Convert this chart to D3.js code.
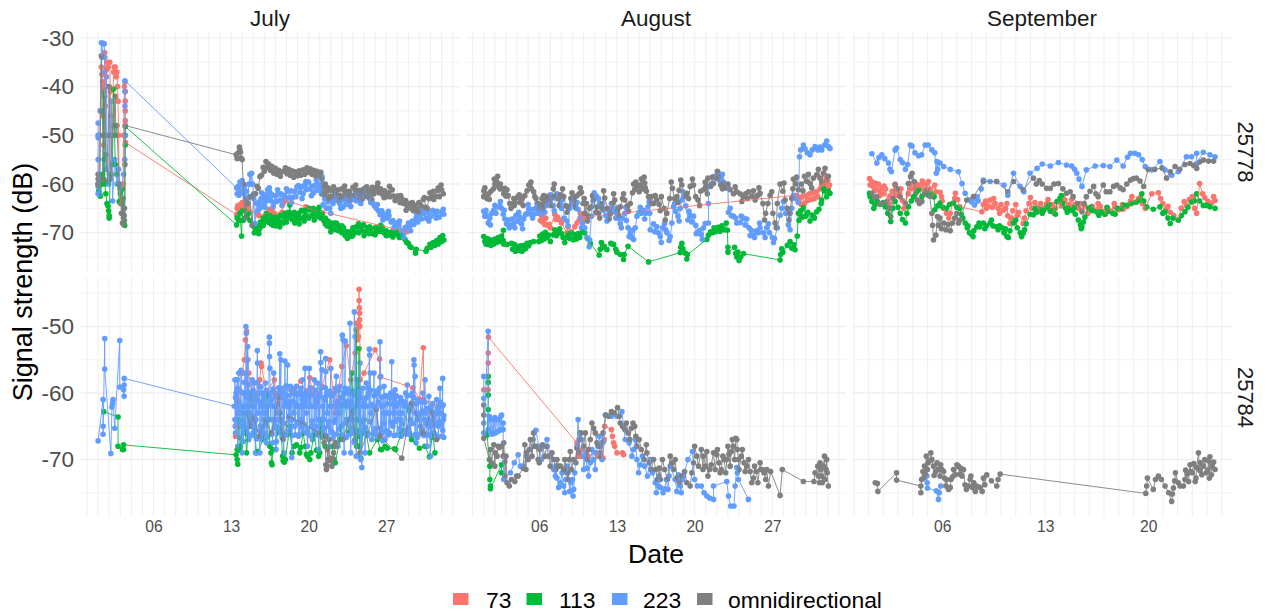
<!DOCTYPE html>
<html>
<head>
<meta charset="utf-8">
<script src="https://cdnjs.cloudflare.com/ajax/libs/d3/7.8.5/d3.min.js"></script>
<style>
  body { margin: 0; background: #fff; }
  text { font-family: "Liberation Sans", Arial, sans-serif; }
</style>
</head>
<body>
<svg width="1267" height="615"></svg>
<script>
var beams = ["73", "113", "223", "omnidirectional"];
var beamColors = ["#F8766D", "#00BA38", "#619CFF", "#7F7F7F"];
var months = ["July", "August", "September"];
var tags = ["25778", "25784"];
var dayTicks = [[6, 13, 20, 27], [6, 13, 20, 27], [6, 13, 20]];

// every series is a list of [day of month, signal strength in dB]

// tag 25778, July
var julA73 = [[1.05,-60],[1.2,-45],[1.3,-36],[1.35,-37.5],[1.4,-39],[1.45,-46],[1.5,-52],[1.55,-40],[1.6,-33],[1.65,-44],[1.7,-40],[1.75,-36.5],[1.85,-35],[1.9,-36],[2.05,-35],[2.1,-41],[2.15,-46],[2.25,-58],[2.3,-48],[2.4,-37],[2.45,-36],[2.55,-36],[2.65,-38],[2.7,-37],[2.75,-40],[2.8,-43],[2.85,-50],[2.9,-60],[3,-64],[3.25,-60],[3.3,-50],[3.38,-40],[3.42,-39],[3.45,-41],[3.45,-43],[3.45,-45],[3.45,-47],[3.47,-51.5],[13.5,-66.3],[13.55,-65],[13.6,-64.5],[13.7,-65.5],[13.8,-64.2],[13.9,-65],[14,-63.8],[14.1,-65],[14.2,-64.5],[14.3,-65.5],[14.4,-66],[14.5,-65],[14.6,-65.6],[15.4,-66],[15.5,-66.5],[16.3,-66],[16.45,-65.2],[16.6,-65.8],[16.7,-65.3],[16.8,-66.3],[16.9,-66],[17.6,-65.8],[17.7,-64],[17.85,-62.9],[17.95,-63.4],[19.75,-64.7],[19.9,-65],[28.85,-69.8]];
var julA113 = [[1,-60],[1.05,-61.5],[1.1,-62],[1.2,-62.5],[1.3,-60],[1.4,-58],[1.5,-41],[1.55,-55],[1.6,-60],[1.7,-62],[1.8,-64],[1.9,-64.5],[1.95,-65.5],[2,-67],[2,-66.5],[2.1,-58],[2.3,-56],[2.4,-40.5],[2.55,-56],[2.7,-58],[2.9,-63.6],[3.2,-61],[3.4,-68.5],[3.45,-52],[3.45,-50],[3.45,-48.2],[13.5,-68.4],[13.55,-67],[13.7,-67.5],[13.8,-66],[13.95,-70.7],[14,-65.5],[14.1,-67.5],[14.3,-65.5],[14.4,-66.8],[14.6,-66],[14.7,-67.5],[15.1,-70],[15.15,-69],[15.3,-69.8],[15.4,-68.6],[15.55,-69.3],[15.65,-67.8],[15.8,-68.6],[15.9,-67],[16,-67.8],[16.1,-66.5],[16.2,-67.6],[16.3,-66.7],[16.4,-67.9],[16.5,-66.6],[16.6,-68.2],[16.7,-67.2],[16.8,-68.5],[16.95,-67.5],[17.05,-68.6],[17.2,-67],[17.3,-68.2],[17.4,-66.5],[17.5,-67.8],[17.6,-66.3],[17.75,-68],[17.85,-66.8],[18,-67.8],[18.15,-65.8],[18.3,-64.3],[18.4,-66],[18.5,-67.3],[18.6,-66.2],[18.75,-68],[18.85,-66.5],[19,-67.5],[19.1,-66],[19.25,-67],[19.35,-65.4],[19.5,-67],[19.6,-65.5],[19.75,-66.5],[19.9,-65.2],[20,-67],[20.15,-65.3],[20.3,-66.5],[20.4,-65],[20.55,-66.3],[20.7,-65.3],[20.85,-66.7],[21,-65.8],[21.1,-67],[21.25,-66],[21.4,-67.6],[21.5,-67],[21.65,-68.6],[21.75,-67.6],[21.9,-68.8],[22.05,-68],[22.2,-69.2],[22.3,-68],[22.45,-69.4],[22.6,-68.4],[22.7,-69.6],[22.85,-68.8],[23,-70],[23.15,-69],[23.3,-70.6],[23.45,-69.8],[23.6,-70.9],[23.75,-69.8],[23.9,-70.7],[24,-69],[24.15,-69.9],[24.3,-68.8],[24.5,-70],[24.65,-68.7],[24.8,-69.6],[24.95,-68.4],[25.1,-69.8],[25.3,-69],[25.45,-70.2],[25.6,-69.2],[25.8,-70.2],[26,-69],[26.15,-69.8],[26.3,-68.9],[26.5,-69.7],[26.65,-68.9],[26.8,-70],[27,-69.6],[27.2,-70.5],[27.4,-70],[27.6,-70.9],[27.8,-70],[28,-70.4],[28.2,-71],[28.4,-70],[28.55,-71],[28.7,-71.4],[28.85,-72],[29,-72.2],[29.15,-72.9],[29.25,-73],[29.65,-74.2],[29.7,-73.4],[30.6,-73.8],[30.7,-73.2],[30.95,-72.4],[31.05,-73],[31.25,-72],[31.4,-72.6],[31.55,-71.6],[31.7,-72.3],[31.85,-71],[32,-71.8],[32.1,-70.6],[32.2,-71.5]];
var julA113b = [[15.5,-70.2],[15.9,-68.5],[16.2,-66],[16.6,-66.6],[17,-66.8],[17.4,-68.8],[17.8,-66],[18.2,-66.8],[18.7,-65.8],[19.15,-68.2],[19.6,-67.6],[20.05,-65],[20.5,-67.4],[20.95,-64.8],[21.5,-68.2],[22,-69.8],[22.5,-68],[23,-68.6],[23.5,-71.2],[24,-70.6],[24.5,-68.2],[25,-70.6],[25.5,-68.8],[26,-70.4],[26.5,-68.5],[27,-70.6],[27.5,-69.8],[28,-69.6]];
var julA223 = [[1,-47.5],[1,-50],[1,-50.5],[1,-55],[1,-60.5],[1,-62],[1.15,-62],[1.2,-45],[1.3,-31],[1.35,-34],[1.45,-31.1],[1.55,-31.2],[1.6,-34],[1.6,-37],[1.7,-57],[1.75,-38],[1.8,-50],[1.95,-60],[2.1,-50],[2.2,-43],[2.3,-63.5],[2.5,-55],[2.7,-60],[2.85,-57],[3,-62],[3.3,-58],[3.4,-55],[3.42,-50],[3.42,-44],[3.42,-41],[3.42,-38.8],[13.5,-60.8],[13.55,-62],[13.65,-60.5],[13.7,-62.3],[13.8,-59.6],[13.9,-61.5],[14,-59.3],[14.1,-62],[14.2,-60.5],[14.3,-63],[14.4,-61.5],[14.5,-64],[14.6,-60],[14.7,-58],[14.8,-60],[14.86,-57.8],[14.95,-60],[15.05,-63],[15.15,-68.1],[15.3,-64],[15.4,-65.5],[15.5,-63.7],[15.6,-65],[15.7,-63],[15.8,-64.5],[15.9,-62.8],[16,-64],[16.1,-62.2],[16.2,-63.5],[16.3,-61.2],[16.4,-63],[16.5,-61.7],[16.6,-63.5],[16.7,-62.2],[16.85,-63.8],[17,-62.4],[17.1,-63.6],[17.25,-62],[17.4,-63.4],[17.5,-62],[17.65,-63.5],[17.8,-62.3],[17.95,-63],[18.1,-61.5],[18.25,-62.8],[18.4,-61.4],[18.55,-62.8],[18.7,-61.5],[18.85,-62.6],[19.07,-60.3],[19.2,-61.7],[19.35,-60.6],[19.5,-62],[19.65,-60.2],[19.8,-61.2],[20,-59.6],[20.15,-61],[20.3,-60.5],[20.45,-61.8],[20.6,-60.2],[20.75,-61.3],[20.9,-60],[21.05,-61],[21.2,-58.5],[21.25,-60],[21.3,-64.3],[21.45,-63],[21.6,-65],[21.75,-63.6],[21.9,-65],[22.05,-63.2],[22.2,-64],[22.35,-62.2],[22.5,-63.4],[22.65,-62.4],[22.8,-64],[22.95,-63.3],[23.1,-64.8],[23.25,-63.3],[23.4,-64.2],[23.55,-62.7],[23.7,-63.6],[23.85,-62.3],[24,-63.2],[24.15,-62.3],[24.3,-63.5],[24.45,-61.8],[24.6,-63],[24.75,-62],[24.9,-63],[25.05,-61.2],[25.2,-62.5],[25.35,-61.8],[25.5,-63],[25.65,-62.2],[25.8,-64],[25.95,-64.5],[26.1,-65],[26.3,-65.5],[26.45,-66.3],[26.6,-65.5],[26.75,-66.5],[26.9,-66.2],[27.1,-67],[27.25,-66.5],[27.45,-67.8],[27.6,-67.5],[27.8,-68.6],[27.95,-68],[28.15,-68.5],[28.35,-69.6],[28.55,-70.2],[28.7,-69],[28.85,-68.8],[29,-68],[29.15,-68.6],[29.35,-67.6],[29.5,-68.3],[29.7,-67],[29.85,-67.8],[30.05,-66.3],[30.2,-67.2],[30.4,-66],[30.6,-67],[30.8,-65.8],[31,-66.7],[31.2,-65.4],[31.4,-66.2],[31.6,-65.6],[31.8,-66.8],[32,-65.8],[32.15,-65.2],[32.2,-66.2]];
var julA223b = [[15.75,-61.8],[16.05,-64.8],[16.45,-60.8],[16.8,-64.6],[17.2,-61.2],[17.6,-64.4],[18,-61],[18.45,-63.8],[18.95,-60.6],[19.4,-63],[19.75,-59.5],[20.25,-62.4],[20.7,-59.2],[21.15,-62],[21.55,-62.6],[22,-66],[22.4,-61.4],[22.9,-65],[23.35,-62.3],[23.8,-64.6],[24.25,-61.4],[24.7,-64],[25.15,-60.8],[25.6,-63.8],[26.2,-64.2],[26.7,-67.4],[27.2,-65.6],[27.7,-69],[28.2,-67.6],[28.6,-71],[29.2,-69.6],[29.75,-66.2],[30.3,-65.4],[30.85,-67.6],[31.5,-67]];
var julA360 = [[1,-58],[1,-59],[1,-60],[1.1,-60.5],[1.15,-59],[1.3,-33.7],[1.35,-45],[1.45,-50],[1.5,-59],[1.6,-42],[1.65,-50],[1.7,-54],[1.85,-59.5],[2,-40],[2.05,-50],[2.1,-59],[2.25,-50],[2.4,-48],[2.55,-42],[2.6,-50],[2.7,-48],[2.9,-60],[3,-61],[3.1,-66],[3.15,-64],[3.2,-68],[3.22,-66],[3.25,-63],[3.28,-67],[3.3,-68.3],[3.35,-66.5],[3.38,-65],[3.38,-67.5],[3.42,-56],[3.45,-48],[13.45,-54],[13.55,-54.8],[13.65,-53.6],[13.75,-52.4],[13.8,-53],[13.85,-53.5],[13.9,-54.7],[14,-55],[14.1,-60],[14.25,-67],[14.4,-63],[14.5,-64],[14.7,-62.6],[14.9,-68.5],[15.05,-62],[15.2,-62],[15.35,-60.5],[15.46,-60.9],[15.6,-58.5],[15.75,-58.2],[15.9,-56.6],[16,-57.4],[16.15,-55.4],[16.3,-56.6],[16.4,-55.9],[16.55,-57.2],[16.7,-56.4],[16.85,-57.8],[17,-56.8],[17.15,-58],[17.3,-57.2],[17.45,-58.4],[17.6,-57.5],[17.75,-57.4],[17.9,-56.7],[18.05,-57.9],[18.2,-57],[18.35,-58.2],[18.5,-57.3],[18.65,-58.6],[18.8,-57.5],[19,-58.3],[19.15,-57.3],[19.3,-58.2],[19.5,-57.1],[19.65,-58],[19.85,-56.7],[20,-57.6],[20.15,-56.9],[20.3,-58],[20.45,-57.2],[20.6,-58.3],[20.75,-57.4],[20.95,-58.3],[21.1,-57.6],[21.2,-59],[21.25,-62],[21.35,-60.5],[21.5,-60],[21.65,-61.5],[21.75,-60.8],[21.9,-62.6],[22.05,-61.3],[22.2,-62.6],[22.35,-61.5],[22.5,-62.4],[22.65,-61.2],[22.8,-62.4],[23,-61],[23.15,-62.5],[23.3,-61.4],[23.5,-62.8],[23.65,-61.5],[23.8,-62.5],[24,-60.7],[24.15,-62.4],[24.3,-61.3],[24.5,-62.7],[24.65,-61.3],[24.85,-62.2],[25,-61],[25.15,-62.5],[25.3,-61.6],[25.45,-62.8],[25.6,-61.4],[25.75,-60.7],[25.9,-62],[26.05,-61.2],[26.2,-60.5],[26.35,-61.8],[26.5,-61],[26.7,-62.2],[26.85,-61.4],[27,-62.6],[27.2,-61.8],[27.35,-62.6],[27.55,-61.2],[27.7,-62.5],[27.9,-63],[28.05,-62.5],[28.25,-63.8],[28.4,-63],[28.55,-64],[28.75,-63.4],[28.9,-64.8],[29.05,-64],[29.25,-65],[29.45,-65.5],[29.6,-64.4],[29.8,-65.2],[29.95,-63.8],[30.15,-64.5],[30.35,-63.2],[30.55,-64.8],[30.7,-65],[30.85,-63],[30.95,-61.8],[31.1,-62.8],[31.25,-61.5],[31.45,-62.5],[31.65,-61.3],[31.8,-62.6],[31.95,-60.2],[32,-61.2],[32.15,-62]];
var julA360b = [[21.4,-62.2],[21.8,-63],[22.25,-60.6],[22.75,-63.2],[23.25,-60.4],[23.7,-63.2],[24.25,-60.2],[24.75,-63.2],[25.25,-60.6],[25.7,-63.2],[26.25,-59.8],[26.8,-62.8],[27.3,-60.5],[27.8,-63.4],[28.3,-62.4],[28.8,-65.4],[29.35,-63.8],[29.9,-65.7],[30.45,-62.8],[31.3,-63.2],[31.7,-60.8]];

// tag 25778, August
var augA73 = [[6.1,-66],[6.1,-67.5],[6.25,-66.2],[6.3,-67.8],[6.4,-67],[6.5,-68.3],[6.6,-67],[6.75,-68.5],[6.9,-68.3],[7,-69],[7.4,-66.2],[7.5,-67.3],[7.65,-66.8],[7.9,-67.4],[8,-68],[8.5,-70],[8.6,-68.8],[8.9,-69.8],[9.2,-68.8],[9.4,-68],[9.6,-67.4],[9.7,-66],[9.8,-66.6],[9.9,-67.6],[10,-66.8],[29.2,-62.3],[29.35,-63.8],[29.5,-62.8],[29.6,-64.2],[29.75,-62.5],[29.9,-64],[30.05,-62.4],[30.2,-63.4],[30.35,-62],[30.5,-63.2],[30.65,-61.8],[30.8,-63],[30.95,-61.6],[31.1,-62.6],[31.3,-61],[31.45,-60.3],[31.6,-60.5],[31.7,-58.1],[31.85,-59.8],[32,-59.3],[32.05,-60.8],[32.15,-60.2]];
var augA113 = [[1,-70.8],[1.1,-71.8],[1.2,-72.3],[1.3,-71.2],[1.4,-72.4],[1.5,-71.4],[1.65,-72.6],[1.75,-71.6],[1.9,-72.3],[2,-71.3],[2.15,-72],[2.3,-71],[2.45,-71.8],[2.6,-70.7],[2.75,-71.6],[2.77,-69.5],[2.8,-72.3],[3.1,-72.4],[3.5,-72.2],[3.6,-73.4],[3.75,-72.4],[3.85,-73.8],[4,-72.8],[4.15,-73.6],[4.3,-72.7],[4.45,-73.8],[4.6,-72.6],[4.75,-73.3],[4.9,-72.2],[5.05,-72.7],[5.2,-72],[5.5,-71.8],[5.95,-71.8],[6.05,-70.7],[6.2,-71.6],[6.3,-70.3],[6.45,-71.3],[6.55,-69.9],[6.7,-71],[6.85,-70.5],[7,-71.8],[7.3,-70.4],[7.4,-69.4],[7.55,-70.6],[7.7,-69.8],[7.85,-69.2],[8,-70.2],[8.15,-71],[8.3,-72],[8.45,-71],[8.6,-70.2],[8.75,-71.2],[8.9,-70],[9.05,-71.5],[9.2,-70.4],[9.35,-71.3],[9.5,-70.2],[9.65,-71],[9.8,-70],[9.95,-69.4],[10.1,-70],[10.35,-71.2],[10.6,-72.2],[11.4,-74.6],[11.5,-73.4],[11.6,-72],[11.7,-73],[11.85,-72.8],[12.1,-73.5],[12.45,-72.2],[12.7,-72.4],[12.9,-73.4],[13,-74],[13.3,-74.5],[13.6,-75.5],[13.65,-74.5],[14,-72.8],[15.85,-76],[18.7,-74.1],[18.75,-73],[18.85,-72.2],[18.95,-73.3],[19.15,-74.2],[19.3,-75.4],[19.35,-74.5],[21.1,-71.4],[21.25,-70.5],[21.45,-69.8],[21.6,-70],[21.75,-69],[21.9,-69.8],[22.1,-68.9],[22.3,-69.7],[22.45,-68.6],[22.65,-69.4],[22.85,-68],[22.95,-69.5],[23,-73],[23,-74],[23.6,-73],[23.7,-74.3],[23.8,-75],[23.9,-74],[24,-75.7],[24.15,-75],[24.4,-74.3],[27.7,-75.6],[27.75,-74.5],[27.85,-73.3],[27.95,-74],[28.35,-72.6],[28.6,-71.8],[28.75,-73.2],[28.95,-72.5],[29.05,-73.5],[29.25,-70.7],[29.35,-66],[29.4,-67.5],[29.55,-65.5],[29.7,-66.8],[29.8,-64.9],[30,-66.6],[30.2,-65.8],[30.4,-67.6],[30.6,-66.4],[30.8,-67],[31,-65.7],[31.2,-65.2],[31.4,-64],[31.45,-63.3],[31.6,-60.9],[31.7,-61.5],[31.9,-62.6],[32.05,-61.5],[32.2,-61.9]];
var augA223 = [[1,-65.6],[1.1,-66.6],[1.25,-66.5],[1.4,-68],[1.55,-67],[1.7,-66],[1.9,-65.4],[2.1,-66],[2.3,-64.7],[2.45,-64.5],[2.6,-65],[2.75,-66.2],[2.9,-67.2],[3.05,-68.2],[3.2,-67.4],[3.4,-68.5],[3.55,-67.2],[3.7,-68],[3.9,-66.5],[4.05,-67.7],[4.25,-66.8],[4.4,-68.2],[4.6,-67.2],[4.75,-66.3],[4.9,-66],[5.05,-65.1],[5.2,-66.2],[5.35,-65.2],[5.5,-66.2],[5.7,-65],[5.85,-66],[6.1,-64.2],[6.25,-65.2],[6.5,-65.8],[6.7,-64.4],[6.9,-63.4],[7.1,-63],[7.25,-64.5],[7.45,-62.8],[7.7,-63],[7.9,-64],[8,-65],[8.25,-67],[8.5,-67.6],[8.75,-65],[8.95,-64],[9.1,-63.7],[9.3,-65],[9.5,-65.2],[9.7,-67],[9.9,-68],[10.1,-69],[10.3,-71],[10.5,-72.9],[10.55,-71.5],[10.7,-66.6],[10.85,-63.5],[11,-63],[11.15,-62.5],[11.35,-63],[11.5,-64.5],[11.8,-65.4],[12,-66.5],[12.2,-65.2],[12.4,-66.2],[12.6,-65],[12.85,-65.8],[13,-65],[13.15,-67],[13.3,-68.1],[13.5,-67],[13.7,-66],[13.85,-67.5],[14,-69],[14.2,-70],[14.35,-71],[14.5,-71.4],[14.65,-69],[14.8,-66.6],[15,-65.8],[15.2,-66],[15.4,-65.4],[15.6,-66],[15.8,-64.7],[15.95,-66],[16,-69.4],[16.3,-68.2],[16.6,-68.8],[16.75,-70],[16.9,-70.8],[17.1,-69],[17.3,-68.1],[17.5,-70],[17.8,-70.8],[17.95,-68],[18.1,-64.7],[18.3,-65.6],[18.5,-66.6],[18.7,-65],[18.85,-63.3],[19,-62.6],[19.2,-64.5],[19.4,-67.4],[19.6,-66.5],[19.9,-66.6],[20.1,-68.5],[20.25,-70],[20.45,-69.5],[20.6,-70.4],[20.8,-69],[20.95,-68.1],[21.25,-68],[21.25,-64],[21.25,-60.5],[21.5,-60],[21.8,-58.4],[22,-58.2],[22.2,-59.2],[22.4,-59],[22.6,-59.6],[22.85,-60.2],[23,-60.6],[23.05,-65.8],[23.3,-66.5],[23.5,-66.6],[23.8,-68],[24.1,-67.9],[24.4,-67],[24.7,-67.2],[24.9,-69],[25.1,-69.5],[25.3,-70.5],[25.55,-69.6],[25.75,-70],[25.9,-69],[26.2,-70],[26.5,-69],[26.75,-70],[27,-71],[27.2,-71.2],[27.45,-69],[27.7,-66.4],[27.85,-65],[28,-63.6],[28.2,-66],[28.45,-68.4],[28.6,-69.4],[28.75,-65],[28.9,-62.3],[29.15,-63],[29.35,-63.7],[29.45,-54.4],[29.55,-53],[29.8,-52],[29.95,-52.8],[30.15,-53.6],[30.4,-54],[30.6,-53],[30.85,-52.3],[31.1,-53],[31.3,-52.4],[31.45,-53],[31.7,-52],[31.9,-51.2],[32.05,-52.3],[32.2,-52.7]];
var augA223b = [[1.2,-65.4],[1.6,-68.4],[2,-64.4],[2.5,-63.6],[2.85,-65.4],[3.3,-69],[3.8,-69],[4.15,-65.8],[4.5,-69.2],[5,-64.2],[5.4,-67],[5.8,-64],[6.2,-66.4],[6.6,-63.4],[7,-62.2],[7.35,-65.5],[7.6,-62],[8.1,-63.2],[8.6,-68.6],[9,-62.8],[9.4,-63.8],[9.8,-69],[10.95,-61.8],[11.3,-64.6],[11.7,-64],[12.1,-67.6],[12.5,-64],[12.9,-67],[13.4,-69],[13.8,-64.8],[14.1,-70.8],[14.4,-69.5],[15.1,-64.8],[15.5,-67.2],[15.9,-63.6],[16.4,-69.8],[17,-72],[17.4,-69.4],[17.7,-71.6],[18.2,-64],[18.6,-67.6],[18.95,-61.6],[19.5,-65.6],[19.75,-67.8],[20.15,-70.2],[20.7,-71.4],[22.1,-57.6],[22.5,-58],[23.2,-65],[23.7,-67],[24.2,-66.6],[24.55,-68.4],[25,-70.6],[25.4,-71],[25.85,-68],[26.35,-71],[26.65,-68.2],[27.1,-72]];
var augA360 = [[1,-61.4],[1,-62.6],[1.15,-62],[1.3,-63],[1.45,-62],[1.65,-61.5],[1.87,-61],[2,-60],[2.17,-59.5],[2.3,-60.5],[2.5,-60],[2.65,-61],[2.9,-60.9],[3,-62.5],[3.2,-62.4],[3.35,-64],[3.5,-64.2],[3.7,-63],[3.85,-63.8],[4.05,-62.7],[4.27,-63.8],[4.45,-63],[4.7,-62.4],[4.9,-61.4],[5.17,-60.3],[5.3,-61],[5.5,-61.6],[5.7,-63],[5.9,-64],[6.1,-64.5],[6.25,-63],[6.4,-62.4],[6.55,-64],[6.8,-63.3],[7,-62.8],[7.27,-61],[7.45,-62.5],[7.7,-63],[7.9,-62.2],[8.2,-62.6],[8.4,-64.5],[8.6,-64.7],[8.85,-63],[9.1,-63.3],[9.35,-62.5],[9.6,-62],[9.8,-61.7],[9.95,-64],[10.1,-66],[10.25,-64],[10.4,-66.6],[10.55,-65],[10.7,-64.7],[10.9,-63],[11.2,-64.7],[11.35,-66],[11.5,-64],[11.7,-65],[11.9,-62.9],[12.15,-65],[12.4,-66],[12.6,-64],[12.8,-63.3],[13.05,-65.5],[13.3,-64.7],[13.5,-63],[13.7,-63.3],[13.95,-64.5],[14.2,-64],[14.4,-61.8],[14.6,-61.2],[14.85,-60.5],[15.1,-60.2],[15.3,-61],[15.5,-59.8],[15.65,-61.5],[15.85,-62.6],[16.1,-62.6],[16.3,-64],[16.6,-63.3],[16.8,-64.2],[17,-62.6],[17.25,-65],[17.5,-66],[17.75,-63],[18,-60.9],[18.2,-63],[18.4,-62.6],[18.6,-61.3],[18.85,-60.2],[19.1,-62.5],[19.3,-61.9],[19.6,-60.5],[19.9,-60.2],[20.1,-62.6],[20.3,-63.3],[20.55,-61.5],[20.8,-61.2],[21,-60.6],[21.2,-58.8],[21.45,-60.5],[21.7,-59.9],[21.95,-58.8],[22.1,-58.5],[22.35,-60.2],[22.6,-59.9],[22.85,-60.8],[23.2,-61.2],[23.5,-62],[23.8,-61.6],[24.1,-62],[24.4,-62.6],[24.6,-62],[24.85,-61.6],[25.15,-62.5],[25.45,-63.3],[25.65,-62.4],[25.9,-61.9],[26.15,-64],[26.4,-66],[26.6,-64],[26.8,-62.3],[27.05,-66],[27.25,-68],[27.45,-64],[27.7,-60],[27.95,-61.5],[28.15,-63.3],[28.35,-65],[28.6,-66],[28.75,-63],[28.9,-59],[29.1,-60],[29.35,-61.2],[29.6,-60],[29.9,-58.4],[30.1,-59.5],[30.4,-59.9],[30.7,-58.8],[31,-58.1],[31.3,-58.8],[31.6,-57.8],[31.85,-59.2],[32.05,-58.4]];
var augA360b = [[1.1,-60.8],[1.5,-63.2],[1.95,-59],[2.25,-58.4],[2.45,-61],[2.8,-62],[3.1,-61.2],[3.45,-65],[3.75,-64.4],[4.2,-62.2],[4.55,-64.4],[5.05,-60.2],[5.25,-59.6],[5.6,-62.6],[6,-65],[6.35,-65],[6.65,-62.6],[7.1,-64.4],[7.35,-60],[7.8,-64.4],[8.1,-61],[8.5,-65.8],[8.95,-61.8],[9.25,-64.6],[9.7,-60.8],[10.05,-63],[10.35,-67.6],[10.8,-62.4],[11.1,-65.8],[11.45,-67],[11.8,-61.4],[12.3,-67.2],[12.7,-62],[13.15,-66.5],[13.6,-62],[14.05,-65.6],[14.5,-60],[14.7,-59.6],[15,-61.6],[15.2,-59],[15.45,-58.6],[15.55,-60.8],[16,-64],[16.45,-62.4],[16.9,-65.5],[17.35,-67.4],[17.9,-59.6],[18.5,-63.8],[18.75,-59.2],[19.45,-63],[19.8,-59],[20.45,-64.4],[20.95,-59.6],[21.15,-62],[21.6,-58.6],[22.05,-57.4],[22.5,-61],[23,-60],[23.65,-60.6],[24.25,-63.6],[24.75,-63],[25.3,-61.4],[25.8,-60.8],[26.3,-67.4],[26.95,-61.6],[27.35,-69],[28.05,-59.8],[28.5,-67.4],[28.85,-61],[29.2,-58.6],[29.75,-61.4],[30.25,-58],[30.55,-60.8],[31.15,-57],[31.45,-59.6],[31.75,-56.8]];

// tag 25778, September
var sepA73 = [[1.06,-58.9],[1.1,-60.2],[1.2,-59.5],[1.34,-60.6],[1.45,-59.8],[1.55,-61.2],[1.67,-60],[1.8,-61.6],[1.9,-60.8],[2,-62],[2.15,-61],[2.3,-63.5],[2.45,-62.5],[2.6,-61.5],[2.8,-60],[2.95,-61.4],[3.1,-62],[3.3,-63.4],[3.5,-64],[3.7,-62],[3.95,-59.9],[4.1,-61],[4.25,-60],[4.4,-60.9],[4.55,-60.2],[4.75,-61.2],[4.9,-60],[5.07,-59.5],[5.2,-61],[5.4,-62.6],[5.6,-61.6],[5.86,-61.7],[6,-63.5],[6.1,-65],[6.3,-66],[6.55,-66],[6.7,-64],[6.9,-61.9],[7.05,-63.2],[7.2,-64.7],[8.7,-65.7],[8.8,-64.2],[8.95,-63.5],[9.1,-64.5],[9.26,-63.3],[9.4,-64.8],[9.6,-64],[9.8,-65],[10,-64.2],[10.15,-65.4],[10.3,-65],[10.45,-66.5],[10.6,-68.1],[10.8,-65.5],[11,-64.2],[11.2,-65.8],[11.5,-68.1],[11.7,-65.5],[11.9,-64],[12.1,-65],[12.3,-63.8],[12.5,-64.8],[12.7,-64],[12.9,-65],[13.1,-64],[13.3,-65.2],[13.5,-64.2],[13.7,-65],[13.9,-63.6],[14.1,-64.5],[14.35,-63.3],[14.6,-64.2],[14.8,-63.2],[15,-64.3],[15.25,-65],[15.5,-65.5],[15.7,-64.5],[15.95,-65.2],[16.2,-64.6],[16.5,-65.3],[16.75,-64.6],[17,-65.6],[17.25,-65],[17.5,-65.6],[17.75,-64.7],[18,-65.3],[18.25,-64.2],[18.55,-64.6],[18.8,-63.5],[19.05,-63.8],[19.35,-63],[19.6,-64],[19.8,-65],[20.25,-62],[20.7,-61.8],[20.85,-63],[21,-64],[21.2,-65.2],[21.35,-64.6],[21.5,-65.8],[21.75,-66.5],[22.05,-67.4],[22.25,-65],[22.45,-63.6],[22.6,-64.4],[22.8,-63.2],[23,-62.6],[23.15,-65],[23.3,-66],[23.5,-59.9],[23.7,-62],[23.85,-62.8],[24.05,-63.5],[24.3,-63.9],[24.45,-62.6],[24.55,-63.4]];
var sepA73b = [[1.4,-61.4],[1.75,-62.4],[2.05,-60.4],[2.4,-64],[2.85,-62.4],[3.2,-61],[3.4,-65],[3.85,-61],[4.2,-62],[4.65,-59.4],[5,-61.4],[5.5,-60.2],[5.95,-62.6],[6.45,-67],[6.85,-63],[9,-65],[9.5,-63],[9.9,-66],[10.4,-64],[10.7,-67],[11.1,-66.4],[11.6,-67],[12,-62.8],[12.6,-65.6],[13.2,-63.2],[13.6,-66],[14.2,-62.8],[14.75,-64.8],[15.4,-64],[15.9,-66],[16.6,-64],[17.1,-66.2],[17.7,-64],[18.3,-65.2],[18.9,-62.6],[19.45,-62.8]];
var sepA113 = [[1.06,-61.9],[1.1,-62.6],[1.22,-63.6],[1.35,-65],[1.45,-64.2],[1.6,-63.6],[1.8,-64.2],[2,-63.8],[2.13,-64.7],[2.3,-66],[2.5,-67.7],[2.65,-65],[2.8,-63.6],[3,-64.8],[3.15,-66],[3.3,-67.3],[3.5,-68],[3.6,-66],[3.7,-64.7],[3.9,-63.5],[4.05,-62.6],[4.25,-61.6],[4.4,-61.2],[4.62,-62.6],[4.85,-62],[5.07,-62.3],[5.3,-62],[5.45,-62.6],[5.5,-65.3],[5.7,-64.5],[5.86,-63.9],[6.05,-64.8],[6.3,-65],[6.5,-64.2],[6.77,-63.9],[7,-64.8],[7.2,-65],[7.3,-66.2],[7.4,-67],[7.56,-68],[7.7,-69],[7.85,-70],[8,-70.3],[8.15,-69.6],[8.35,-68.8],[8.55,-68.8],[8.8,-68],[9,-68.6],[9.26,-68],[9.45,-68.6],[9.7,-68.8],[9.9,-68.6],[10.05,-69],[10.2,-70],[10.4,-70.8],[10.6,-69.6],[10.85,-68],[11.1,-69],[11.3,-70],[11.5,-70.1],[11.7,-68.2],[11.97,-66.2],[12.2,-66.3],[12.4,-65.8],[12.65,-65.2],[12.9,-65.4],[13.1,-64.7],[13.35,-65.6],[13.55,-65.4],[13.8,-63.6],[14,-63],[14.2,-64],[14.4,-65],[14.6,-65],[14.85,-65.5],[15.05,-66.2],[15.25,-67.4],[15.4,-68.4],[15.5,-68.8],[15.7,-66.8],[15.95,-65],[16.2,-65.5],[16.5,-65.7],[16.8,-65.7],[17.05,-66.2],[17.3,-65.6],[17.6,-66],[17.9,-65],[18.2,-65],[18.55,-64.4],[18.85,-64],[19.2,-63.7],[19.4,-63.3],[19.57,-62],[19.7,-63.5],[19.9,-64.7],[20.35,-65.2],[20.8,-64.7],[21,-66],[21.15,-65.7],[21.35,-67],[21.5,-68.1],[21.7,-67],[22.05,-67.4],[22.25,-66.5],[22.5,-65.7],[22.7,-64.8],[22.95,-63.7],[23.15,-63.5],[23.3,-62],[23.5,-63.5],[23.75,-64.4],[24,-64.4],[24.2,-64.7],[24.55,-65]];
var sepA113b = [[7.75,-68.6],[8.1,-70.8],[8.5,-68],[8.9,-69.2],[9.35,-67.4],[9.8,-69.4],[10.3,-69.2],[10.5,-71],[11,-67.4],[11.4,-70.8],[11.6,-69.4],[12.3,-65],[12.8,-66],[13.25,-64.2],[13.7,-66.2],[14.1,-62.4],[14.5,-65.8],[15,-64.8],[15.45,-69.2],[15.6,-67.8],[16.1,-64.8],[16.65,-66.4],[17.2,-64.8],[17.75,-66.2],[18.35,-64.4]];
var sepA223 = [[1.22,-53.8],[1.56,-55.7],[1.7,-54.6],[1.9,-54],[2.1,-54.8],[2.35,-55.7],[2.45,-57],[2.55,-57.5],[2.8,-53],[2.9,-52.6],[3.15,-55],[3.3,-55.6],[3.5,-57],[3.65,-56],[3.83,-52],[3.95,-52.2],[4.15,-53.6],[4.4,-54.2],[4.6,-54],[4.85,-52],[5.05,-52],[5.3,-53],[5.5,-53.6],[5.6,-57.8],[5.65,-55.4],[5.7,-57],[5.85,-55.7],[6.1,-56.4],[6.55,-57],[7.1,-57.5],[7.35,-59.9],[7.56,-61.9],[7.9,-63.3],[8,-63.7],[8.1,-63],[8.2,-64.3],[8.35,-62.6],[8.45,-63.5],[8.65,-61],[8.8,-59.2],[9.26,-59.5],[9.7,-59.5],[10.2,-60.2],[10.46,-62.3],[10.85,-57.8],[11.3,-60.5],[11.55,-61.6],[11.97,-57.8],[12.45,-56.8],[12.8,-55.9],[13.35,-56.3],[13.9,-55.6],[14.45,-56.1],[14.8,-56.3],[15,-57],[15.15,-57.8],[15.3,-59],[15.5,-60.5],[15.8,-57.1],[16.4,-56.3],[16.95,-56.2],[17.4,-56.4],[17.87,-55.1],[18.3,-56.3],[18.6,-54.5],[18.8,-53.7],[19.1,-53.7],[19.35,-54],[19.6,-55],[19.8,-56.4],[20.25,-57.1],[20.8,-55.4],[21.15,-57.1],[21.6,-58.2],[22.05,-57.5],[22.6,-54.4],[22.95,-54.4],[23.3,-53.7],[23.3,-55.8],[23.75,-53.5],[24.2,-54],[24.55,-54.4]];
var sepA360 = [[1.22,-61.9],[1.4,-62.8],[1.56,-62.6],[1.75,-64],[1.9,-64],[2.25,-63.6],[2.4,-65],[2.5,-66.7],[2.65,-63],[2.8,-60.2],[2.95,-61],[3.15,-62.6],[3.5,-64],[3.7,-59.9],[3.85,-58.5],[3.95,-57.8],[4.1,-59.5],[4.3,-63.3],[4.45,-64],[4.62,-63.6],[4.8,-62],[4.95,-61.2],[5.15,-62.5],[5.3,-66],[5.35,-68.5],[5.41,-71.5],[5.57,-70.5],[5.68,-66.7],[5.75,-68.5],[5.85,-67],[5.95,-69.2],[6.1,-68],[6.25,-69.4],[6.4,-68.3],[6.55,-69.6],[6.7,-68],[6.85,-67],[7,-66],[7.1,-68],[7.2,-67.4],[7.67,-63.3],[8.13,-62.6],[8.8,-59.5],[9.7,-59.5],[10.46,-61.6],[10.85,-59.5],[11.5,-61.2],[12.2,-58.8],[12.4,-60],[12.6,-59.3],[12.8,-60],[13.1,-60.9],[13.35,-60.9],[13.6,-60],[13.9,-59.9],[14.2,-61],[14.45,-61.9],[14.7,-61.6],[14.9,-62.6],[15.2,-64],[15.5,-65.7],[15.65,-64],[15.8,-62.6],[16.05,-61.5],[16.3,-60.5],[16.45,-62],[16.6,-62.6],[16.95,-60.2],[17.15,-61.6],[17.4,-61.6],[17.65,-60.5],[17.87,-60.2],[18.1,-60.8],[18.3,-61.2],[18.55,-60],[18.8,-59.2],[19,-58.9],[19.2,-58.8],[19.45,-59.4],[19.7,-60.5],[20,-57],[20.45,-57],[20.95,-56.7],[21.25,-58.8],[21.5,-57.5],[21.83,-56.4],[22.15,-57],[22.5,-56],[22.85,-55.8],[23.1,-56.2],[23.3,-56.8],[23.5,-55.5],[23.75,-55.1],[24.1,-55.3],[24.45,-55.3]];

// tag 25784, July
var julB73 = [[13.4,-66.5],[13.7,-62],[14,-57],[14.2,-55],[14.3,-52],[14.4,-50.7],[14.6,-57],[15,-62],[15.6,-58],[15.7,-55.5],[15.75,-56],[16.2,-60],[16.9,-58],[17.3,-64],[18,-59],[18.6,-60],[19.3,-58.2],[19.8,-60],[20.1,-57.7],[20.6,-62],[21.2,-59],[21.9,-55],[22.4,-63],[23,-56],[23.4,-52.9],[23.8,-58],[24.2,-54],[24.3,-49.5],[24.4,-52],[24.45,-49.5],[24.5,-51.5],[24.55,-44.4],[24.56,-46.1],[24.58,-47.2],[24.6,-48],[24.6,-49],[24.62,-50],[24.65,-58],[25,-57],[26,-53.5],[26.4,-54.9],[26.45,-57.6],[29.4,-59.2],[30,-60.9],[30.35,-53.2],[30.4,-61],[31.7,-62]];
var julB113 = [[1.5,-62.8],[2.8,-63.6],[2.8,-68],[3.2,-68.5],[3.3,-68.5],[3.3,-67.8],[13.45,-69.3],[13.55,-70],[13.6,-70.7],[13.55,-68.5],[13.7,-64],[13.75,-68.6],[13.85,-68],[14.1,-62],[14.3,-66],[14.4,-69],[14.8,-60],[15.3,-69],[15.4,-68.8],[15.9,-67],[16.3,-60],[16.5,-68],[16.6,-69],[16.65,-70.5],[16.7,-70.8],[16.75,-68.5],[17,-68.5],[17.4,-63],[17.65,-69.5],[17.7,-70.2],[17.8,-70.4],[17.9,-70],[18.3,-65],[18.5,-69],[18.7,-68],[18.9,-67.8],[19.2,-69],[19.3,-68.2],[19.5,-66],[19.7,-68],[19.8,-69.2],[19.9,-69.5],[20.1,-70],[20.2,-69],[20.5,-66],[20.7,-68.6],[20.9,-69.5],[21,-69],[21.1,-64],[21.5,-68],[22.1,-68],[22.4,-70.5],[22.8,-67],[23.2,-60],[23.6,-66],[23.9,-57],[24.1,-66],[24.2,-67],[24.3,-50.5],[24.35,-68],[24.4,-68],[24.45,-66.5],[24.55,-53.3],[24.6,-68],[24.7,-69.8],[25,-64],[25.5,-69],[26.2,-67],[26.5,-68.5],[26.6,-68.5],[26.9,-68],[27.1,-68.3],[27.75,-68.4],[27.85,-68.5],[28.4,-66],[29,-62],[29.3,-67],[30,-68.3],[30.5,-68],[30.9,-69.6],[31.2,-66],[31.4,-69]];
var julB223 = [[1,-67.2],[1.45,-61],[1.45,-65],[1.45,-66.2],[1.6,-51.8],[1.6,-56.4],[2.15,-69.1],[2.25,-62.1],[2.3,-61.6],[2.35,-61],[2.5,-65.3],[2.95,-52.1],[2.95,-59.1],[3.3,-59.5],[3.35,-60.5],[3.35,-58.8],[3.36,-57.8],[13.3,-62],[13.35,-58],[13.35,-64],[13.38,-65],[13.4,-66],[13.45,-60],[13.5,-61],[13.55,-58],[13.6,-68],[13.62,-63],[13.7,-57],[13.75,-65],[13.8,-62],[13.9,-56.6],[13.95,-63],[14,-69],[14.05,-65],[14.1,-60],[14.15,-66],[14.2,-62],[14.25,-57],[14.34,-50],[14.38,-51],[14.42,-66],[14.46,-62],[14.5,-53],[14.52,-55],[14.55,-60],[14.6,-67],[14.65,-63],[14.7,-60],[14.75,-65],[14.8,-64],[14.9,-58],[14.95,-62],[15,-66],[15.05,-62],[15.1,-58.5],[15.15,-64],[15.2,-69],[15.25,-64],[15.3,-61],[15.37,-53.6],[15.38,-55.5],[15.42,-60],[15.45,-63],[15.55,-59],[15.6,-69],[15.65,-65],[15.7,-62],[15.75,-60],[15.8,-67],[15.85,-63],[15.9,-60],[15.95,-64],[16,-66],[16.05,-62],[16.1,-58.5],[16.15,-63],[16.2,-67.5],[16.25,-64],[16.3,-62],[16.45,-51.6],[16.46,-52.5],[16.47,-54.5],[16.5,-56.3],[16.55,-64],[16.6,-61],[16.65,-60],[16.7,-64],[16.75,-67.5],[16.8,-62],[16.85,-57],[16.9,-60],[16.95,-62],[17,-65],[17.05,-68.5],[17.1,-64],[17.2,-60],[17.25,-63],[17.3,-66],[17.35,-60],[17.4,-54.1],[17.5,-55],[17.55,-60],[17.6,-64],[17.68,-66],[17.75,-69],[17.8,-62],[17.86,-55.2],[17.95,-59],[18,-62],[18.05,-59],[18.1,-55.8],[18.15,-62],[18.2,-66],[18.27,-62],[18.35,-59],[18.4,-64],[18.47,-69.7],[18.55,-64],[18.6,-60],[18.68,-63],[18.75,-65],[18.82,-62],[18.9,-59],[18.95,-62],[19,-64.5],[19.05,-60],[19.1,-66.5],[19.17,-62],[19.25,-59.8],[19.3,-62],[19.35,-64],[19.4,-61],[19.45,-58],[19.5,-62],[19.55,-66],[19.6,-62],[19.67,-56.3],[19.75,-60],[19.8,-63],[19.85,-66],[19.9,-68],[19.98,-62],[20.06,-56.3],[20.12,-60],[20.2,-62],[20.27,-65],[20.35,-67],[20.42,-62],[20.5,-58],[20.57,-62],[20.65,-65],[20.72,-61],[20.8,-58.5],[20.85,-64],[20.9,-68.5],[20.95,-64],[21,-60],[21.08,-53.8],[21.1,-55.4],[21.2,-56.5],[21.25,-62],[21.3,-66],[21.35,-64],[21.4,-61],[21.53,-54.8],[21.55,-56.8],[21.62,-60],[21.7,-63],[21.78,-65],[21.85,-68],[21.92,-62],[22,-56.3],[22.08,-62],[22.15,-66],[22.22,-62],[22.3,-60],[22.4,-64],[22.5,-57.5],[22.58,-62],[22.65,-68],[22.72,-63],[22.8,-59],[22.88,-62],[22.95,-65],[23.04,-51.3],[23.1,-52],[23.15,-60],[23.2,-69],[23.25,-60],[23.3,-52.2],[23.35,-60],[23.4,-64],[23.48,-62],[23.55,-60],[23.65,-64],[23.73,-49.5],[23.77,-60],[23.8,-69],[23.85,-64],[23.9,-60],[23.95,-63],[24,-66],[24.05,-60],[24.12,-47.8],[24.2,-51.5],[24.25,-62],[24.3,-69.5],[24.35,-64],[24.4,-58],[24.45,-61],[24.5,-64],[24.58,-60],[24.64,-55.5],[24.7,-70],[24.8,-71.2],[24.85,-66],[24.9,-62],[25,-66],[25.1,-69],[25.15,-62],[25.2,-58.5],[25.28,-62],[25.35,-66],[25.42,-60],[25.48,-53.4],[25.5,-54.3],[25.55,-57],[25.62,-63],[25.7,-67],[25.8,-62],[25.9,-57],[26,-62],[26.1,-66],[26.25,-60],[26.44,-52.3],[26.5,-57.5],[26.55,-62],[26.6,-66],[26.7,-62],[26.8,-59],[26.85,-63],[26.9,-67],[27,-63],[27.1,-60.5],[27.2,-63],[27.3,-66],[27.4,-60],[27.5,-55.3],[27.55,-60],[27.6,-65],[27.65,-63],[27.7,-61],[27.75,-63],[27.8,-59.5],[27.9,-62],[28,-64],[28.12,-63],[28.25,-61.3],[28.3,-64],[28.35,-66.5],[28.45,-63],[28.6,-62],[28.75,-60],[28.9,-58.8],[29,-62],[29.1,-66],[29.17,-64],[29.25,-62],[29.35,-60],[29.5,-55],[29.52,-55.8],[29.6,-57.5],[29.65,-63],[29.7,-67.5],[29.8,-64],[29.9,-61],[30,-63],[30.1,-65],[30.2,-63],[30.3,-60],[30.4,-64],[30.5,-58],[30.55,-63],[30.7,-68],[30.78,-64],[30.85,-60.5],[30.92,-65],[31,-69.5],[31.05,-65],[31.1,-62],[31.2,-64],[31.3,-66],[31.42,-63],[31.55,-61],[31.62,-63],[31.7,-65],[31.78,-62],[31.85,-59.3],[31.92,-63],[32,-66.5],[32.05,-62],[32.1,-57.8],[32.15,-61.8],[32.18,-64],[32.2,-66.7]];
var julB223b = [[13.4,-60.7],[13.5,-64.6],[13.6,-59.3],[13.7,-61.4],[13.8,-66.7],[13.9,-59.8],[14,-64.2],[14.1,-67.3],[14.2,-58.4],[14.3,-65.3],[14.4,-60.6],[14.5,-66.2],[14.6,-58.7],[14.7,-64.7],[14.8,-60.9],[14.9,-66.4],[15,-59.6],[15.1,-65.2],[15.2,-60.3],[15.3,-66.9],[15.4,-58.4],[15.5,-61.3],[15.6,-65.7],[15.7,-59.1],[15.8,-61.4],[15.9,-66.5],[16,-60.7],[16.1,-64.9],[16.2,-59.6],[16.3,-66.6],[16.4,-60.3],[16.55,-61.7],[16.7,-66.2],[16.8,-59.4],[16.9,-65.3],[17,-60.6],[17.1,-67.3],[17.2,-61.7],[17.3,-59.2],[17.4,-65.4],[17.5,-60.7],[17.6,-66.7],[17.7,-59.3],[17.8,-64.6],[17.9,-61.3],[18,-66.3],[18.1,-60.4],[18.2,-61.3],[18.3,-65.6],[18.4,-59.6],[18.5,-66.4],[18.6,-61.3],[18.7,-59.4],[18.8,-66.3],[18.9,-61.7],[19,-60.3],[19.1,-64.3],[19.2,-66.2],[19.3,-59.3],[19.4,-65.2],[19.5,-60.4],[19.6,-64.7],[19.7,-61.3],[19.8,-59.7],[19.9,-65.4],[20,-60.6],[20.1,-66.4],[20.2,-59.2],[20.3,-64.2],[20.4,-60.3],[20.5,-65.6],[20.6,-59.6],[20.7,-66.3],[20.8,-61.3],[20.9,-60.4],[21,-65.2],[21.1,-59.3],[21.2,-66.6],[21.3,-60.7],[21.4,-65.3],[21.5,-59.2],[21.6,-66.4],[21.7,-60.3],[21.8,-64.3],[21.9,-59.7],[22,-65.6],[22.1,-60.4],[22.2,-66.8],[22.3,-64.4],[22.4,-59.3],[22.5,-66.2],[22.6,-61.3],[22.7,-59.6],[22.8,-65.4],[22.9,-60.7],[23,-66.3],[23.1,-61.6],[23.2,-64.6],[23.3,-59.3],[23.4,-66.7],[23.5,-61.3],[23.6,-59.4],[23.7,-66.2],[23.8,-61.4],[23.9,-65.3],[24,-59.7],[24.1,-67.4],[24.2,-60.3],[24.3,-65.6],[24.4,-61.3],[24.5,-59.4],[24.6,-66.3],[24.7,-60.7],[24.8,-64.3],[24.9,-59.3],[25,-61.4],[25.1,-65.2],[25.2,-60.7],[25.3,-66.4],[25.4,-59.2],[25.5,-64.3],[25.6,-59.6],[25.7,-61.7],[25.8,-66.2],[25.9,-60.4],[26,-65.4],[26.1,-59.7],[26.2,-66.6],[26.3,-61.4],[26.4,-59.3],[26.5,-65.3],[26.6,-60.6],[26.7,-67.2],[26.8,-64.6],[26.9,-60.4],[27,-65.7],[27.1,-61.6],[27.2,-66.3],[27.3,-60.7],[27.4,-64.4],[27.5,-60.3],[27.6,-61.7],[27.7,-66.4],[27.8,-64.3],[27.9,-60.4],[28,-66.3],[28.1,-61.6],[28.2,-65.4],[28.3,-60.7],[28.4,-64.6],[28.5,-61.3],[28.6,-65.7],[28.7,-61.4],[28.8,-66.2],[28.9,-60.4],[29,-65.3],[29.1,-62.7],[29.2,-66.4],[29.3,-60.4],[29.4,-64.6],[29.5,-60.7],[29.6,-66.3],[29.7,-61.6],[29.8,-66.7],[29.9,-63.4],[30,-66.2],[30.1,-61.3],[30.2,-65.6],[30.3,-62.7],[30.4,-66.4],[30.5,-61.4],[30.6,-64.6],[30.7,-62.3],[30.8,-66.3],[30.9,-62.6],[31,-64.4],[31.1,-66.7],[31.2,-61.6],[31.3,-63.4],[31.4,-66.2],[31.5,-64.7],[31.6,-62.3],[31.7,-66.6],[31.8,-64.3],[31.9,-61.4],[32,-64.6],[32.1,-65.6],[32.2,-63.4]];
var julB360 = [[14.4,-63],[14.7,-65],[15,-63.5],[15.55,-66.5],[16.1,-64],[16.65,-66],[17.3,-60.5],[17.7,-67],[18.2,-63.5],[19.4,-64.5],[20.9,-66],[21.4,-67.5],[21.5,-66.5],[21.55,-70.8],[21.6,-71.5],[21.65,-71],[21.7,-68.5],[21.75,-70],[21.85,-67],[21.9,-70.2],[22,-69.8],[22.1,-71],[22.2,-70],[22.25,-69],[22.3,-70],[22.4,-67.5],[22.4,-68],[22.6,-67.5],[23.1,-67],[23.9,-62.5],[24.2,-67],[24.64,-69],[26.1,-62.5],[26.45,-66.5],[28.4,-69.8],[29.3,-61.5],[30.35,-66],[31.1,-62.8],[31.55,-67]];

// tag 25784, August
var augB73 = [[1,-59.5],[1.4,-59.5],[1.4,-55.5],[1.4,-54],[1.42,-51.6],[9.4,-67.5],[9.5,-69.5],[9.7,-69.5],[9.9,-68.5],[10.4,-69.5],[11.1,-69],[11.3,-69.5],[11.5,-69],[11.75,-69.8],[11.85,-67],[11.9,-65],[12.5,-65.5],[12.6,-66.5],[12.7,-67.5],[12.8,-68],[13,-69],[13.5,-69],[13.6,-69.3]];
var augB113 = [[1.4,-57.5],[1.4,-58.4],[1.4,-60.3],[1.4,-62.5],[1.3,-66.3],[1.55,-71],[1.55,-73],[1.6,-74],[1.6,-74.4],[2.6,-70.8],[2.6,-72]];
var augB223 = [[1,-57.5],[1,-60.8],[1,-64.5],[1,-66],[1.4,-50.7],[1.4,-65.5],[1.5,-63.5],[1.6,-66],[1.65,-64],[1.75,-66.2],[1.85,-64],[1.9,-66],[2,-63.7],[2.05,-66],[2.15,-64],[2.25,-65.8],[2.35,-64],[2.45,-65.6],[2.55,-63.5],[2.6,-63.3],[2.65,-65.5],[2.75,-64.5],[2.75,-65.5],[2.8,-73],[3.4,-72],[3.75,-70.5],[4.1,-69.3],[4.3,-71],[4.55,-71],[4.85,-69.5],[5.2,-68.5],[5.45,-67],[5.7,-65.6],[5.95,-68],[6.2,-70],[6.4,-68],[6.7,-67],[7,-69.5],[7.3,-71.5],[7.45,-72.5],[7.6,-72.8],[7.9,-73.5],[8.2,-74],[8.4,-73],[8.6,-72],[8.85,-73.5],[9.1,-74.5],[9.2,-72],[9.4,-68],[9.5,-64],[9.65,-66],[9.8,-67],[10,-69.5],[10.3,-71.3],[10.6,-70.5],[10.9,-70],[11.1,-69],[11.3,-68],[11.55,-68],[11.8,-67.3],[11.95,-63.3],[12.5,-63.5],[13,-63.5],[13.45,-62.8],[13.6,-65],[13.75,-67],[14.1,-67.5],[14.5,-68.5],[14.8,-70],[15.1,-70.8],[15.5,-71],[16,-70],[16.2,-72],[16.45,-73.5],[16.7,-74],[16.9,-74.2],[17.3,-74.4],[17.6,-74.5],[17.7,-72.5],[17.8,-71],[18.25,-73],[18.7,-74],[18.9,-73],[19,-72.5],[19.4,-70],[19.8,-68.8],[20,-73],[20.25,-74],[20.6,-74],[20.85,-75],[21.1,-75.5],[21.35,-75.8],[21.7,-76],[21.7,-74],[22.9,-73.3],[23.05,-75.5],[23.25,-77],[23.55,-77],[23.65,-74],[23.8,-71.2],[23.85,-72],[23.95,-73],[24.85,-76]];
var augB223b = [[7.5,-71],[7.75,-74.2],[8.05,-72],[8.3,-75],[8.5,-71],[8.75,-74.8],[9,-73],[9.05,-75.5],[9.6,-69],[10,-71.5],[10.2,-69],[10.45,-72.5],[10.75,-68.5],[11.05,-71.5],[11.4,-66.5],[11.65,-70],[14.35,-69.5],[14.65,-67],[14.95,-72],[15.3,-69.5],[15.75,-72.5],[16.05,-71.5],[16.55,-75],[16.8,-72.5],[17.15,-75],[17.45,-73],[18.4,-74.8],[18.55,-72.3],[18.8,-75]];
var augB360 = [[1,-61.8],[1,-63.3],[1,-66.8],[1.5,-70],[1.7,-70.5],[1.9,-67.8],[2.05,-69],[2.2,-69.5],[2.4,-68.2],[2.6,-68],[2.75,-69.5],[2.9,-70.3],[2.9,-72.5],[3.1,-73.5],[3.3,-74],[3.5,-73],[3.8,-73.3],[3.95,-72.5],[4.1,-72.5],[4.55,-71.3],[4.7,-67.8],[4.85,-69],[5,-70],[5.2,-67],[5.5,-66],[5.7,-68],[5.9,-70],[6.05,-68.5],[6.3,-67.8],[6.7,-68],[6.85,-69.5],[7,-71],[7.3,-70],[7.6,-70],[7.75,-71],[7.9,-71],[8.2,-71.5],[8.5,-72],[8.7,-70],[8.8,-68.8],[9.1,-70],[9.4,-68.3],[9.6,-67],[9.75,-66],[10,-68],[10.3,-70],[10.6,-67],[10.9,-65.3],[11.2,-67.5],[11.5,-69.5],[11.75,-66],[12,-63.3],[12.25,-63.5],[12.5,-62.8],[12.75,-63],[13.05,-62.2],[13.2,-63.5],[13.3,-64.5],[13.5,-65],[13.7,-65.5],[14,-66],[14.3,-65.3],[14.6,-65],[14.7,-66.5],[14.8,-68],[15.2,-68.5],[15.7,-69],[15.9,-70.5],[16.1,-71.5],[16.5,-71.5],[16.8,-71.3],[16.9,-73],[17.3,-71.5],[17.8,-69.5],[17.95,-70.5],[18.1,-71.5],[18.4,-72.8],[18.8,-72.5],[19.3,-73.5],[19.6,-74],[19.75,-72],[19.9,-70.5],[20.2,-69.5],[20.8,-69.5],[21,-71],[21.2,-72.5],[21.5,-70.8],[22,-69.3],[22.2,-70.5],[22.4,-71.5],[22.65,-70],[22.9,-70],[23.1,-69.2],[23.3,-68.8],[23.5,-68],[23.7,-66.8],[23.85,-68.5],[23.95,-70],[24.2,-69.5],[24.45,-70.5],[24.7,-71],[25,-71.8],[25.3,-72.8],[25.55,-71.8],[25.9,-70.5],[26.1,-71.5],[26.4,-73],[26.65,-74],[26.85,-71.8],[27.7,-75.4],[27.9,-71.5],[29.8,-73.3],[30.75,-73.3],[30.85,-72],[31.1,-71],[31.3,-70.5],[31.45,-72.5],[31.6,-71],[31.9,-70],[31.95,-72],[32.05,-74]];
var augB360b = [[1.6,-68.5],[2,-71],[2.3,-68],[2.8,-67.5],[3,-69.5],[4.8,-71.5],[5.1,-68.5],[5.35,-69.5],[5.6,-68],[6,-70.5],[6.5,-69.5],[7.15,-69],[7.5,-71.5],[8.3,-70],[8.6,-73],[8.9,-71.5],[9.3,-70.5],[9.55,-69],[10.15,-66],[10.45,-68.5],[10.75,-64.5],[11.05,-66],[11.35,-68],[11.65,-67.5],[13.85,-64.5],[14.15,-67],[14.45,-64.5],[15,-67],[15.45,-70],[15.65,-67.8],[16.3,-70],[16.65,-73],[17.1,-70],[17.55,-73],[18.25,-70],[18.6,-73.5],[19.1,-71.8],[20,-68],[20.35,-71],[20.6,-68.5],[20.75,-71.5],[21.1,-68.8],[21.35,-71.5],[21.7,-69],[21.85,-71.5],[22.05,-68.5],[22.3,-72],[22.55,-69.5],[22.8,-72],[23,-68],[23.2,-71],[23.4,-67],[23.6,-70],[23.8,-67],[24,-71.5],[24.3,-68.5],[24.55,-71.8],[24.85,-70],[25.15,-73.5],[25.4,-71],[25.7,-73.5],[25.95,-71.5],[26.25,-72],[26.5,-71.5],[31.15,-72.5],[31.25,-73.5],[31.35,-71.5],[31.5,-73.5],[31.7,-69.5],[31.75,-73],[31.85,-71.5]];

// tag 25784, September
var sepB223 = [[4.96,-72.5],[4.98,-73.5],[5,-74.3],[5.6,-74.7],[5.75,-76],[5.8,-75],[5.9,-74]];
var sepB360 = [[1.45,-73.5],[1.6,-73.6],[1.63,-74.8],[2.9,-72],[2.9,-73.1],[4.55,-74],[4.55,-75],[4.6,-73],[4.69,-71.8],[4.75,-72.8],[4.8,-71],[4.92,-69.5],[5.05,-70.5],[5.23,-69],[5.3,-70],[5.41,-71],[5.55,-71.8],[5.75,-71.5],[5.85,-72.5],[5.98,-71.5],[6.15,-72.8],[6.3,-73],[6.43,-74.5],[6.6,-73],[6.77,-71.5],[6.9,-72.3],[7.1,-71],[7.2,-72.2],[7.34,-72.5],[7.55,-73.8],[7.79,-74],[7.9,-73],[7.95,-72.5],[8.15,-73.5],[8.35,-74],[8.55,-74.2],[8.72,-74.8],[8.8,-72.8],[8.9,-73.8],[9.03,-72.3],[9.35,-73.2],[9.71,-74],[9.8,-73],[9.94,-72.2],[19.84,-75.1],[19.9,-74],[19.95,-72.8],[20.35,-74.5],[20.5,-73],[20.7,-72.5],[20.9,-73],[21.15,-74],[21.4,-75],[21.6,-76.3],[21.65,-75.2],[21.72,-74.3],[21.8,-73.2],[21.85,-72],[22.05,-73.5],[22.17,-74],[22.5,-73],[22.65,-72.2],[22.85,-70.8],[23,-72],[23.2,-73.3],[23.3,-71.2],[23.42,-69],[23.55,-70.5],[23.75,-71],[23.95,-72],[24.16,-72.8],[24.2,-69.6],[24.35,-71],[24.55,-71.5]];
var sepB360b = [[4.85,-72.2],[5,-71.5],[5.15,-70.2],[5.45,-72.4],[5.65,-70.5],[5.9,-70.8],[6.1,-71.8],[6.25,-74],[6.55,-74.2],[6.7,-72.6],[7,-70.8],[7.25,-71.3],[7.45,-71.5],[7.65,-74.5],[8.05,-74.2],[8.25,-74.8],[22.4,-74],[22.55,-71.6],[22.75,-73.3],[22.9,-71.8],[23.1,-70.6],[23.25,-72.8],[23.5,-71.6],[23.65,-72.3],[23.85,-70],[24.05,-71.6],[24.1,-70.2],[24.3,-72.3],[24.45,-70.4]];

// two-part series are merged back in time order
function merged(a, b) {
    return d3.sort(a.concat(b), d => d[0]);
}

var panelData = [
    [[julA73, merged(julA113, julA113b), merged(julA223, julA223b), merged(julA360, julA360b)],
     [augA73, augA113, merged(augA223, augA223b), merged(augA360, augA360b)],
     [merged(sepA73, sepA73b), merged(sepA113, sepA113b), sepA223, sepA360]],
    [[julB73, julB113, merged(julB223, julB223b), julB360],
     [augB73, augB113, merged(augB223, augB223b), merged(augB360, augB360b)],
     [[], [], sepB223, merged(sepB360, sepB360b)]]
];

var svg = d3.select("svg");

// facet layout
var colX = [[80, 460], [466, 846], [852, 1232]];
var rowY = [[32, 272], [278, 517]];
var xScales = [
    d3.scaleLinear().domain([-0.634, 33.66]).range(colX[0]),
    d3.scaleLinear().domain([-0.6, 33.64]).range(colX[1]),
    d3.scaleLinear().domain([-0.13, 25.7]).range(colX[2])
];
var yScales = [
    d3.scaleLinear().domain([-78.07, -28.8]).range([rowY[0][1], rowY[0][0]]),
    d3.scaleLinear().domain([-78.65, -42.7]).range([rowY[1][1], rowY[1][0]])
];
var yMajor = [[-70, -60, -50, -40, -30], [-70, -60, -50]];
var yMinor = [[-75, -65, -55, -45, -35], [-75, -65, -55, -45]];
var dayGrid = [d3.range(0, 34), d3.range(0, 34), d3.range(0, 26)];

rowY.forEach(function (rows, r) {
    colX.forEach(function (cols, c) {
        var x = xScales[c], y = yScales[r];
        var g = svg.append("g").attr("class", "panel");

        // grid
        g.selectAll(".vgrid").data(dayGrid[c]).enter().append("line")
            .attr("x1", d => x(d)).attr("x2", d => x(d))
            .attr("y1", rows[0]).attr("y2", rows[1])
            .attr("stroke", "#f1f1f1").attr("stroke-width", 1.2);
        g.selectAll(".hminor").data(yMinor[r]).enter().append("line")
            .attr("x1", cols[0]).attr("x2", cols[1])
            .attr("y1", d => y(d)).attr("y2", d => y(d))
            .attr("stroke", "#f3f3f3").attr("stroke-width", 1.1);
        g.selectAll(".hmajor").data(yMajor[r]).enter().append("line")
            .attr("x1", cols[0]).attr("x2", cols[1])
            .attr("y1", d => y(d)).attr("y2", d => y(d))
            .attr("stroke", "#efefef").attr("stroke-width", 1.3);

        // points first, the thin lines go over them
        panelData[r][c].forEach(function (series, s) {
            g.append("g").selectAll("circle").data(series).enter().append("circle")
                .attr("cx", d => x(d[0]))
                .attr("cy", d => y(d[1]))
                .attr("r", 2.8)
                .attr("fill", beamColors[s]);
        });
        var line = d3.line().x(d => x(d[0])).y(d => y(d[1]));
        panelData[r][c].forEach(function (series, s) {
            g.append("path").datum(series)
                .attr("d", line)
                .attr("fill", "none")
                .attr("stroke", beamColors[s])
                .attr("stroke-width", 0.9);
        });
    });

    // y axis, labels only
    var yAxis = svg.append("g")
        .attr("transform", "translate(74,0)")
        .call(d3.axisLeft(yScales[r]).tickValues(yMajor[r]).tickSize(0).tickPadding(0).tickFormat(d => String(d)));
    yAxis.select(".domain").remove();
    yAxis.selectAll("text").attr("font-size", 22.5).attr("fill", "#4d4d4d")
        .style("font-family", "'Liberation Sans', Arial, sans-serif");

    svg.append("text")
        .attr("transform", "translate(1238," + ((rows[0] + rows[1]) / 2) + ") rotate(90)")
        .attr("text-anchor", "middle")
        .attr("font-size", 22)
        .attr("fill", "#1a1a1a")
        .text(tags[r]);
});

colX.forEach(function (cols, c) {
    // x axis, bottom row only
    var xAxis = svg.append("g")
        .attr("transform", "translate(0,521)")
        .call(d3.axisBottom(xScales[c]).tickValues(dayTicks[c]).tickSize(0).tickPadding(0).tickFormat(d3.format("02d")));
    xAxis.select(".domain").remove();
    xAxis.selectAll("text").attr("font-size", 15.6).attr("fill", "#4d4d4d")
        .style("font-family", "'Liberation Sans', Arial, sans-serif");

    svg.append("text")
        .attr("x", (cols[0] + cols[1]) / 2)
        .attr("y", 26)
        .attr("text-anchor", "middle")
        .attr("font-size", 22.5)
        .attr("fill", "#1a1a1a")
        .text(months[c]);
});

// axis titles
svg.append("text")
    .attr("x", 656).attr("y", 563)
    .attr("text-anchor", "middle")
    .attr("font-size", 26.5)
    .text("Date");
svg.append("text")
    .attr("transform", "translate(32,282) rotate(-90)")
    .attr("text-anchor", "middle")
    .attr("font-size", 27)
    .text("Signal strength (dB)");

// legend
var legendSwatch = [453, 526.5, 612, 697];
var legendText = [486, 559, 643, 728];
beams.forEach(function (b, i) {
    svg.append("rect")
        .attr("x", legendSwatch[i]).attr("y", 593)
        .attr("width", 15.5).attr("height", 12)
        .attr("fill", beamColors[i]);
    svg.append("text")
        .attr("x", legendText[i]).attr("y", 607.5)
        .attr("font-size", 22.9)
        .text(b);
});
</script>
</body>
</html>
